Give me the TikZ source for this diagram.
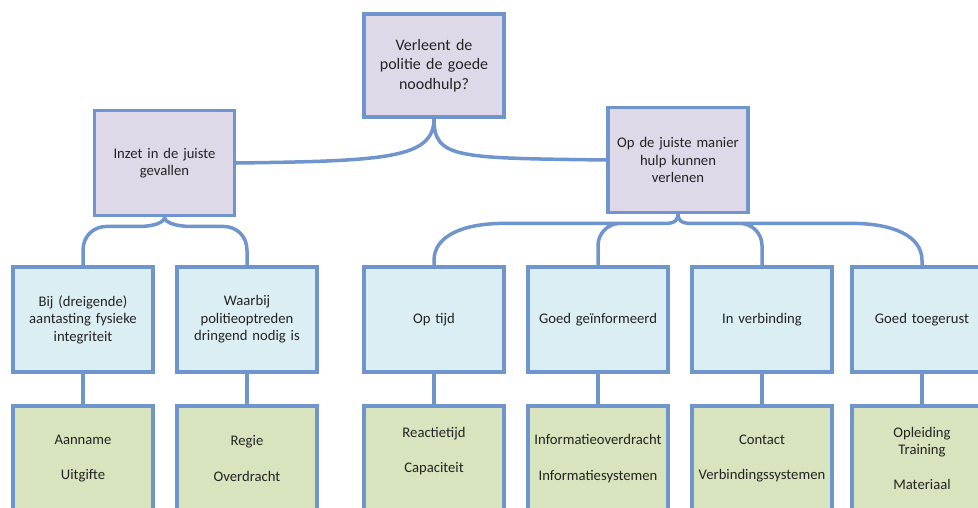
\documentclass[tikz,border=0pt]{standalone}
\usepackage{fontspec}
\setmainfont{Carlito}
\usepackage{tikz}
\usetikzlibrary{positioning}

\definecolor{rand}{RGB}{112,148,204}
\definecolor{lila}{RGB}{223,216,232}
\definecolor{ijsblauw}{RGB}{219,238,244}
\definecolor{lindegroen}{RGB}{215,228,189}
\definecolor{inkt}{RGB}{35,35,35}

\tikzset{
  vak/.style={draw=rand, line width=3.2pt, minimum width=140pt, minimum height=105pt,
    text width=132pt, inner sep=2pt, align=center, text=inkt,
    font=\fontsize{14.67}{17.6}\selectfont},
  vraag/.style={vak, fill=lila, minimum height=103pt, font=\fontsize{16}{19.5}\selectfont},
  doel/.style={vak, fill=lila},
  eis/.style={vak, fill=ijsblauw},
  middel/.style={vak, fill=lindegroen},
  tak/.style={draw=rand, line width=3.5pt}
}

\begin{document}
\begin{tikzpicture}[x=1pt, y=-1pt]
  \useasboundingbox (0,0) rectangle (978,507);
  \clip (0,0) rectangle (978,507);

  \node[vraag] (top) at (434,65.5) {Verleent de\\politie de goede\\noodhulp?};

  \node[doel] (l-1) at (164.5,163) {Inzet in de juiste\\gevallen};
  \node[doel] (l-2) at (678,160) {Op de juiste manier\\hulp kunnen\\verlenen};

  \node[eis] (m-1) at (83,319.5)  {Bij (dreigende)\\aantasting fysieke\\integriteit};
  \node[eis] (m-2) at (247,319.5) {Waarbij\\politieoptreden\\dringend nodig is};
  \node[eis] (m-3) at (434,319.5) {Op tijd};
  \node[eis] (m-4) at (598,319.5) {Goed geïnformeerd};
  \node[eis] (m-5) at (762,319.5) {In verbinding};
  \node[eis] (m-6) at (922,319.5) {Goed toegerust};

  \node[middel] (b-1) at (83,458.5)  {Aanname\\~\\Uitgifte};
  \node[middel] (b-2) at (247,458.5) {Regie\\~\\Overdracht};
  \node[middel] (b-3) at (434,458.5) {Reactietijd\\~\\Capaciteit\\~};
  \node[middel] (b-4) at (598,458.5) {Informatieoverdracht\\~\\Informatiesystemen};
  \node[middel] (b-5) at (762,458.5) {Contact\\~\\Verbindingssystemen};
  \node[middel] (b-6) at (922,458.5) {Opleiding\\Training\\~\\Materiaal};

  \path[tak]
  (l-1.east) .. controls +(150,-2) and +(0,40) .. (top.south)
  (l-2.west) .. controls +(-150,-2) and +(0,40) .. (top.south)
  ;

  \path[tak]
  (m-1.north) -- ++(0,-15) .. controls +(0,-14) and +(-14,0) .. ++(24,-24) -- ++(33,0)
    .. controls +(12,0) and +(0,6) .. (l-1.south)
  (m-2.north) -- ++(0,-15) .. controls +(0,-14) and +(14,0) .. ++(-24,-24) -- ++(-33,0)
    .. controls +(-12,0) and +(0,6) .. (l-1.south)
  ;

  \path[tak]
  (m-3.north) -- ++(0,-5) .. controls +(0,-25) and +(-40,0) .. ++(70,-37) -- ++(161,0)
    .. controls +(10,0) and +(0,6) .. (l-2.south)
  (m-4.north) -- ++(0,-20) .. controls +(0,-12) and +(-12,0) .. ++(22,-22) -- ++(45,0)
  (m-5.north) -- ++(0,-20) .. controls +(0,-12) and +(12,0) .. ++(-22,-22) -- ++(-49,0)
    .. controls +(-10,0) and +(0,6) .. (l-2.south)
  (m-6.north) -- ++(0,-5) .. controls +(0,-25) and +(40,0) .. ++(-70,-37) -- ++(-161,0)
  ;

  \path[tak]
  (m-1.south) edge (b-1.north)
  (m-2.south) edge (b-2.north)
  (m-3.south) edge (b-3.north)
  (m-4.south) edge (b-4.north)
  (m-5.south) edge (b-5.north)
  (m-6.south) edge (b-6.north)
  ;
\end{tikzpicture}
\end{document}
